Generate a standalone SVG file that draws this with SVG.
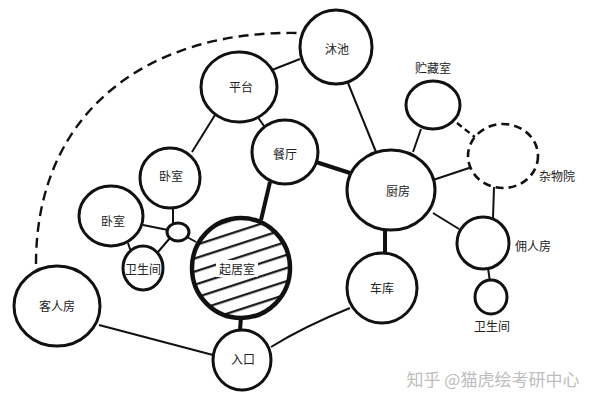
<svg xmlns="http://www.w3.org/2000/svg" width="600" height="402" viewBox="0 0 600 402">
<defs>
<style>
.n{fill:#fff;stroke:#111;stroke-width:3}
.nd{fill:#fff;stroke:#111;stroke-width:2.6;stroke-dasharray:8 5}
.l{stroke:#111;stroke-width:2;fill:none}
.lt{stroke:#111;stroke-width:4;fill:none}
.ld{stroke:#111;stroke-width:2.4;fill:none;stroke-dasharray:10 6}
text{font-family:"Noto Sans CJK SC","Noto Sans",sans-serif;font-size:12px;fill:#222;text-anchor:middle;dominant-baseline:central}
.wm{font-size:17px;fill:#bdbdbd}
</style>
<pattern id="hatch" patternUnits="userSpaceOnUse" width="12" height="12.5" patternTransform="rotate(-18)">
<line x1="0" y1="6" x2="12" y2="6" stroke="#111" stroke-width="2.2"/>
</pattern>
</defs>
<rect width="600" height="402" fill="#fff"/>
<g id="connectors">
<path class="ld" d="M36,264 C36,110 150,30 298,33"/>
<line class="l" x1="272" y1="70" x2="300" y2="59"/>
<line class="l" x1="215" y1="115" x2="192" y2="152"/>
<line class="l" x1="257" y1="116" x2="264" y2="126"/>
<line class="lt" x1="316" y1="162" x2="350" y2="173"/>
<line class="lt" x1="270" y1="182" x2="261" y2="220"/>
<line class="l" x1="348" y1="83" x2="376" y2="152"/>
<line class="l" x1="421" y1="129" x2="413" y2="152"/>
<line class="ld" x1="457" y1="123" x2="476" y2="138" style="stroke-dasharray:6 4"/>
<line class="l" x1="433" y1="180" x2="472" y2="167"/>
<line class="l" x1="494" y1="187" x2="493" y2="218"/>
<line class="l" x1="433" y1="213" x2="459" y2="229"/>
<line class="lt" x1="385" y1="228" x2="385" y2="254"/>
<line class="l" x1="488" y1="268" x2="490" y2="282"/>
<path class="l" d="M350,308 Q305,326 271,347"/>
<line class="lt" x1="241" y1="316" x2="240" y2="331"/>
<line class="l" x1="99" y1="325" x2="213" y2="355"/>
<line class="l" x1="143" y1="225" x2="168" y2="230"/>
<line class="l" x1="173" y1="207" x2="173" y2="224"/>
<line class="l" x1="170" y1="238" x2="158" y2="252"/>
<line class="l" x1="128" y1="243" x2="131" y2="252"/>
<line class="l" x1="187" y1="237" x2="196" y2="242"/>
</g>
<g id="pool"><ellipse class="n" cx="336" cy="47" rx="36" ry="37"/><text x="337" y="48">沐池</text></g>
<g id="terrace"><ellipse class="n" cx="239" cy="87" rx="38" ry="35"/><text x="241" y="86">平台</text></g>
<g id="dining"><ellipse class="n" cx="285" cy="152" rx="33" ry="32"/><text x="285" y="153">餐厅</text></g>
<g id="bedroom1"><ellipse class="n" cx="170" cy="178" rx="30" ry="30"/><text x="171" y="175">卧室</text></g>
<g id="bedroom2"><ellipse class="n" cx="111" cy="216" rx="32" ry="30"/><text x="113" y="220">卧室</text></g>
<g id="hub"><ellipse class="n" cx="178" cy="232" rx="11" ry="9"/></g>
<g id="bath1"><ellipse class="n" cx="143" cy="268" rx="20" ry="22"/><text x="143" y="268">卫生间</text></g>
<g id="living">
<ellipse cx="241" cy="268" rx="49" ry="50" fill="url(#hatch)"/>
<rect x="216" y="260" width="42" height="17" fill="#fff"/>
<ellipse cx="241" cy="268" rx="49" ry="50" fill="none" stroke="#111" stroke-width="4.5"/>
<text x="237" y="268">起居室</text>
</g>
<g id="guest"><ellipse class="n" cx="57" cy="306" rx="43" ry="40"/><text x="57" y="305">客人房</text></g>
<g id="entry"><ellipse class="n" cx="242" cy="360" rx="29" ry="30"/><text x="243" y="358">入口</text></g>
<g id="garage"><ellipse class="n" cx="382" cy="288" rx="35" ry="35"/><text x="382" y="287">车库</text></g>
<g id="kitchen"><ellipse class="n" cx="391" cy="190" rx="44" ry="40"/><text x="398" y="190">厨房</text></g>
<g id="storage"><ellipse class="n" cx="433" cy="105" rx="27" ry="24"/><text x="433" y="67">贮藏室</text></g>
<g id="yard"><ellipse class="nd" cx="503" cy="156" rx="35" ry="32"/><text x="557" y="175">杂物院</text></g>
<g id="servant"><ellipse class="n" cx="483" cy="243" rx="26" ry="26"/><text x="533" y="245">佣人房</text></g>
<g id="bath2"><ellipse class="n" cx="491" cy="297" rx="16" ry="17"/><text x="492" y="325">卫生间</text></g>
<text class="wm" x="493" y="378">知乎 @猫虎绘考研中心</text>
</svg>
